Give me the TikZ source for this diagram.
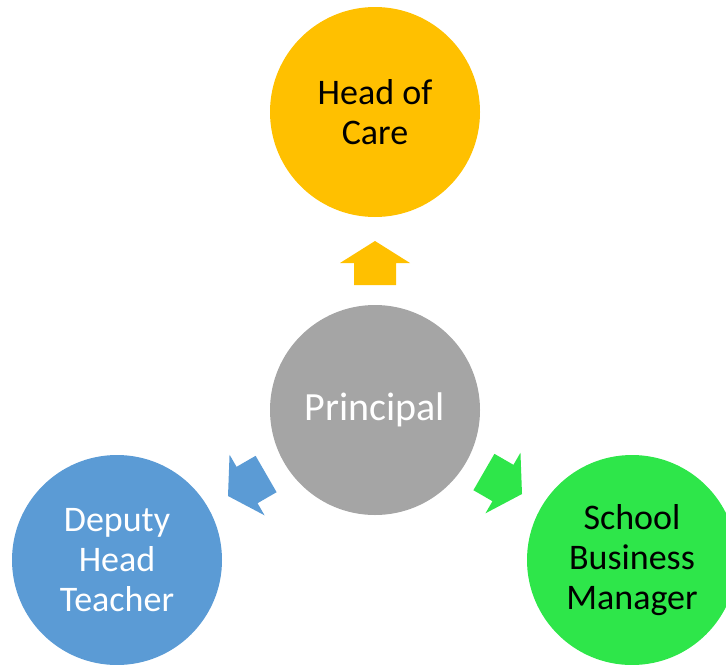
\documentclass[tikz,border=0pt]{standalone}
\usepackage{fontspec}
\setmainfont{Carlito}
\usetikzlibrary{positioning}
\definecolor{careyellow}{HTML}{FFC000}
\definecolor{principalgrey}{HTML}{A5A5A5}
\definecolor{deputyblue}{HTML}{5B9BD5}
\definecolor{businessgreen}{HTML}{2EE64A}
\tikzstyle{role} = [circle, minimum size=105pt, inner sep=0pt,
    align=center, font=\fontsize{18}{20}\selectfont]

\begin{document}
\begin{tikzpicture}[x=0.5pt,y=-0.5pt]
\useasboundingbox (0,0) rectangle (726,664);
\clip (0,0) rectangle (726,664);
 \coordinate (C) at (375,112);
 \coordinate (P) at (375,410);
 \coordinate (D) at (117,560);
 \coordinate (S) at (632,560);

\node[role, fill=careyellow, name=care] at (C) {Head of\\Care};
\node[role, fill=principalgrey, text=white, name=principal,
      font=\fontsize{20}{22}\selectfont] at (P) {Principal};
\node[role, fill=deputyblue, text=white, name=deputy] at (D) {Deputy\\Head\\Teacher};
\node[role, fill=businessgreen, name=business] at (S) {School\\Business\\Manager};

% arrows out of the principal
\foreach \tx/\ty/\ang/\col in {375/241/0/careyellow, 228/496/120/deputyblue, 522/494/-120/businessgreen}{
  \begin{scope}[shift={(\tx,\ty)}, rotate=\ang]
    \fill[\col] (0,0) -- (35,22) -- (21,22) -- (21,44) -- (-21,44) -- (-21,22) -- (-35,22) -- cycle;
  \end{scope}
}

\end{tikzpicture}
\end{document}
